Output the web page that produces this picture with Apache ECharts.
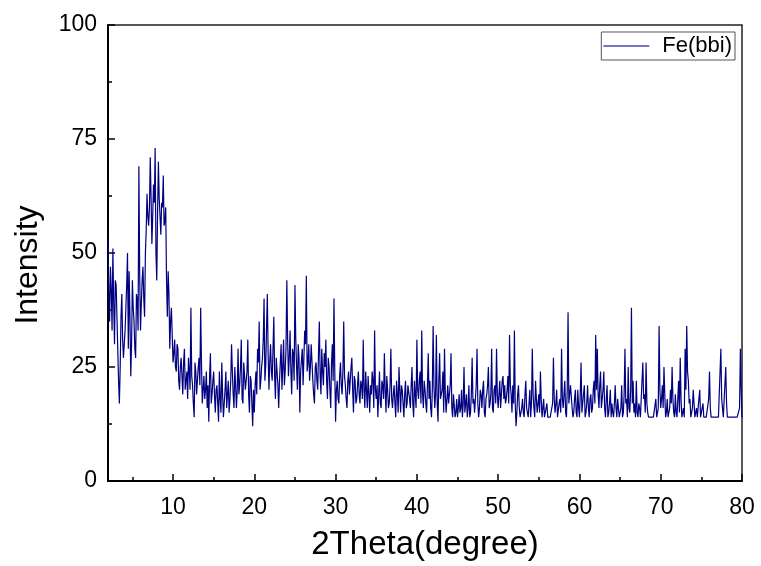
<!DOCTYPE html>
<html>
<head>
<meta charset="utf-8">
<script src="https://cdn.jsdelivr.net/npm/echarts@6/dist/echarts.min.js"></script>
<style>
  html, body { margin: 0; padding: 0; background: #fff; }
  #chart { width: 761px; height: 566px; }
</style>
</head>
<body>
<div id="chart"></div>
<script>
// 2Theta runs from 2 to 80 deg, readings every 0.1 deg
const thetaStart = 2;
const thetaStep = 0.2;

// intensity at even tenths (2.0, 2.2, ... 80.0), five per degree
const lowAngle = [ // 2.0 - 9.8
  53, 35, 42, 51, 30,
  43, 29, 17, 36, 31,
  27, 38, 50, 46, 23,
  44, 35, 27, 40, 69,
  33, 44, 40, 50, 63,
  56, 71, 52, 65, 73,
  44, 70, 58, 61, 67,
  57, 44, 46, 29, 38
];
const midAngle = [ // 10.0 - 29.8
  26, 31, 24, 29, 20,
  27, 19, 29, 22, 18,
  24, 38, 21, 14, 24,
  19, 27, 38, 17, 23,
  20, 16, 13, 28, 19,
  24, 15, 21, 13, 18,
  26, 14, 20, 16, 22,
  18, 30, 19, 25, 16,
  29, 21, 31, 17, 23,
  20, 31, 15, 22, 12,
  15, 24, 29, 35, 22,
  27, 40, 25, 41, 20,
  30, 22, 36, 18, 27,
  16, 26, 20, 31, 24,
  44, 23, 33, 19, 28,
  43, 25, 30, 15, 24,
  21, 33, 45, 26, 22,
  30, 22, 17, 26, 20,
  35, 19, 24, 28, 31,
  18, 25, 16, 30, 40
];
const highAngle = [ // 30.0 - 49.8
  13, 22, 17, 26, 19,
  35, 21, 16, 24, 19,
  27, 15, 22, 18, 24,
  17, 21, 31, 16, 20,
  23, 15, 19, 22, 33,
  18, 14, 24, 16, 21,
  28, 15, 20, 17, 29,
  16, 21, 14, 19, 25,
  15, 20, 14, 22, 17,
  21, 16, 25, 14, 19,
  31, 18, 24, 33, 16,
  20, 15, 28, 22, 14,
  34, 16, 32, 13, 28,
  18, 24, 29, 15, 21,
  17, 28, 14, 19, 15,
  14, 19, 16, 14, 25,
  17, 14, 21, 15, 27,
  18, 15, 29, 14, 20,
  16, 22, 14, 19, 25,
  17, 29, 15, 21, 29
];
const tailAngle = [ // 50.0 - 80.0
  16, 22, 19, 23, 21,
  18, 23, 32, 19, 21,
  33, 12, 19, 16, 14,
  18, 14, 22, 15, 17,
  14, 29, 16, 22, 15,
  19, 24, 14, 18, 14,
  17, 14, 14, 14, 27,
  15, 20, 14, 18, 29,
  16, 22, 14, 37, 19,
  21, 14, 18, 15, 20,
  14, 26, 17, 21, 15,
  21, 14, 19, 16, 22,
  32, 29, 16, 24, 18,
  24, 14, 21, 15, 20,
  17, 14, 21, 14, 18,
  14, 21, 15, 29, 18,
  25, 15, 38, 22, 17,
  22, 14, 16, 14, 26,
  19, 26, 15, 14, 14,
  14, 14, 18, 14, 34,
  16, 21, 25, 14, 18,
  14, 20, 25, 15, 19,
  14, 22, 27, 14, 16,
  29, 34, 22, 18, 14,
  20, 14, 16, 14, 20,
  14, 17, 14, 14, 14,
  24, 14, 14, 14, 14,
  14, 14, 29, 18, 14,
  25, 14, 14, 14, 14,
  14, 14, 14, 14, 29,
  14
];

const oddLow = [ // 2.1 - 9.9
  41, 47, 33, 39, 44,
  36, 22, 25, 41, 27,
  33, 43, 29, 36, 30,
  38, 29, 41, 33, 45,
  39, 47, 36, 55, 58,
  60, 62, 58, 61, 50,
  59, 62, 54, 60, 56,
  60, 36, 41, 35, 32
];
const oddMid = [ // 10.1 - 29.9
  28, 25, 30, 22, 25,
  23, 26, 20, 24, 27,
  20, 23, 17, 26, 19,
  25, 21, 26, 20, 18,
  24, 21, 23, 17, 22,
  19, 20, 17, 24, 15,
  19, 17, 24, 19, 15,
  22, 24, 16, 21, 20,
  19, 25, 18, 26, 20,
  24, 19, 23, 17, 20,
  21, 19, 26, 20, 25,
  31, 22, 33, 28, 26,
  24, 29, 23, 27, 21,
  22, 30, 25, 21, 29,
  31, 27, 24, 29, 22,
  31, 20, 27, 24, 29,
  27, 30, 24, 30, 25,
  26, 19, 25, 22, 28,
  23, 29, 21, 25, 22,
  27, 20, 26, 22, 24
];
const oddHigh = [ // 30.1 - 49.9
  20, 18, 23, 21, 24,
  23, 18, 22, 19, 25,
  20, 23, 17, 21, 19,
  22, 18, 20, 24, 16,
  19, 21, 24, 16, 20,
  21, 19, 17, 22, 18,
  20, 23, 16, 21, 18,
  19, 17, 22, 15, 20,
  21, 17, 19, 16, 21,
  18, 21, 17, 22, 16,
  20, 22, 17, 19, 22,
  17, 21, 18, 16, 20,
  21, 19, 17, 22, 18,
  20, 15, 19, 18, 17,
  21, 16, 19, 14, 18,
  16, 15, 20, 17, 15,
  19, 16, 14, 19, 17,
  15, 21, 17, 16, 19,
  20, 15, 18, 21, 16,
  19, 16, 20, 17, 19
];
const oddTail = [ // 50.1 - 79.9
  19, 16, 22, 18, 17,
  20, 17, 21, 15, 17,
  17, 15, 21, 14, 16,
  15, 19, 16, 14, 20,
  17, 19, 14, 18, 17,
  15, 18, 16, 14, 14,
  14, 14, 14, 17, 18,
  17, 14, 17, 15, 18,
  19, 15, 20, 17, 21,
  16, 15, 20, 14, 16,
  19, 15, 19, 14, 17,
  16, 18, 15, 20, 17,
  20, 19, 21, 16, 20,
  16, 18, 14, 17, 14,
  15, 17, 16, 18, 14,
  16, 14, 19, 17, 14,
  16, 20, 17, 15, 14,
  15, 17, 14, 14, 18,
  15, 17, 14, 14, 14,
  14, 14, 14, 16, 20,
  18, 16, 19, 15, 14,
  16, 17, 18, 14, 15,
  14, 15, 18, 14, 14,
  20, 24, 17, 14, 16,
  17, 15, 14, 14, 14,
  14, 14, 14, 14, 18,
  16, 14, 14, 14, 14,
  14, 14, 18, 14, 14,
  17, 14, 14, 14, 14,
  14, 14, 14, 16, 20
];

const yTicks = [0, 25, 50, 75, 100];
const seriesName = 'Fe(bbi)';

const evenVals = lowAngle.concat(midAngle, highAngle, tailAngle);
const oddVals = oddLow.concat(oddMid, oddHigh, oddTail);

const points = [];
evenVals.forEach((v, i) => {
  const x = thetaStart + i * thetaStep;
  points.push([+x.toFixed(1), v]);
  if (i < oddVals.length) points.push([+(x + thetaStep / 2).toFixed(1), oddVals[i]]);
});

const font = 'Liberation Sans, Arial, sans-serif';

const chart = echarts.init(document.getElementById('chart'), null, { renderer: 'canvas' });

chart.setOption({
  animation: false,
  backgroundColor: '#fff',
  grid: {
    left: 108,
    right: 19,
    top: 25,
    bottom: 84,
    show: true,
    borderColor: '#222',
    borderWidth: 1.5
  },
  legend: {
    right: 26,
    top: 32,
    padding: [3, 3, 3, 2],
    borderColor: '#555',
    borderWidth: 1,
    itemWidth: 46,
    itemHeight: 1.5,
    itemGap: 4,
    textStyle: { fontFamily: font, fontSize: 22, color: '#000', padding: [0, 0, 0, 8] },
    data: [{ name: seriesName, icon: 'rect', itemStyle: { color: '#4848a8' } }]
  },
  xAxis: [
    {
      type: 'value',
      min: 2,
      max: 80,
      splitNumber: 8,
      name: '2Theta(degree)',
      nameLocation: 'middle',
      nameGap: 47,
      nameTextStyle: { fontFamily: font, fontSize: 33, color: '#000' },
      axisLine: { show: true, lineStyle: { color: '#000', width: 2 } },
      axisTick: { show: true, inside: true, length: 7, lineStyle: { color: '#000', width: 1.5 } },
      axisLabel: {
        showMinLabel: false,
        fontFamily: font,
        fontSize: 23,
        color: '#000',
        margin: 15
      },
      splitLine: { show: false }
    },
    {
      // minor ticks every 5 deg
      type: 'value',
      position: 'bottom',
      min: 2,
      max: 80,
      splitNumber: 16,
      axisLine: { show: false },
      axisTick: { show: true, inside: true, length: 4, lineStyle: { color: '#000', width: 1.5 } },
      axisLabel: { show: false },
      splitLine: { show: false }
    }
  ],
  yAxis: {
    type: 'value',
    min: yTicks[0],
    max: yTicks[yTicks.length - 1],
    interval: 25,
    name: 'Intensity',
    nameLocation: 'middle',
    nameGap: 64,
    nameTextStyle: { fontFamily: font, fontSize: 32, color: '#000', padding: [0, 24, 0, 0] },
    axisLine: { show: true, lineStyle: { color: '#000', width: 2 } },
    axisTick: { show: true, inside: true, length: 7, lineStyle: { color: '#000', width: 1.5 } },
    minorTick: { show: true, splitNumber: 2, length: 4, lineStyle: { color: '#000', width: 1.5 } },
    axisLabel: { fontFamily: font, fontSize: 23, color: '#000', margin: 11 },
    splitLine: { show: false }
  },
  series: [
    {
      name: seriesName,
      type: 'line',
      xAxisIndex: 0,
      data: points,
      symbol: 'none',
      lineStyle: { color: '#000080', width: 1.2 },
      itemStyle: { color: '#000080' }
    }
  ]
});
</script>
</body>
</html>
